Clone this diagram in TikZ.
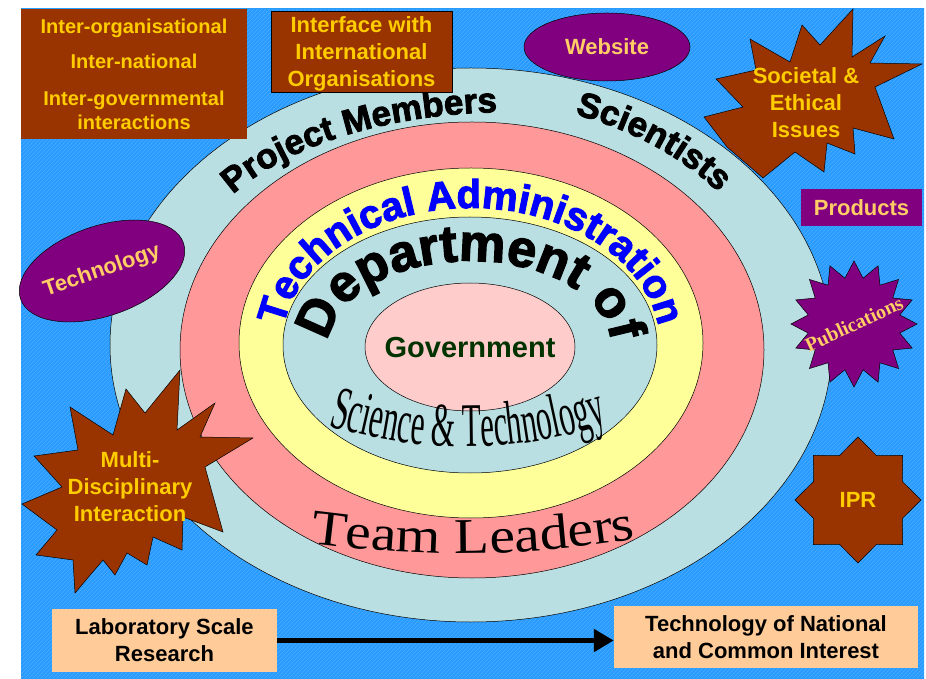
\documentclass[tikz,border=0pt]{standalone}
\usepackage{fontspec}
\setmainfont{Liberation Sans}
\newfontfamily\heavysans[FakeBold=2.5]{Liberation Sans Bold}
\newfontfamily\wideserif[FakeStretch=1.15]{Liberation Serif}
\newfontfamily\tallserif[FakeStretch=0.5]{Liberation Serif}
\newfontfamily\pubserif{Liberation Serif}
\usetikzlibrary{shapes.geometric,arrows.meta,decorations.text,positioning}

\definecolor{ringblue}{RGB}{185,223,227}
\definecolor{ringpink}{RGB}{255,153,153}
\definecolor{ringyellow}{RGB}{255,255,153}
\definecolor{corepink}{RGB}{255,204,204}
\definecolor{rust}{RGB}{153,51,0}
\definecolor{gold}{RGB}{255,204,0}
\definecolor{plum}{RGB}{128,0,128}
\definecolor{apricot}{RGB}{255,204,102}
\definecolor{peach}{RGB}{255,204,153}
\definecolor{govgreen}{RGB}{0,51,0}
\definecolor{skyblue}{RGB}{40,155,255}
\definecolor{aqua}{RGB}{100,255,255}

\begin{document}
\begin{tikzpicture}[x=1pt, y=1pt,
    ring/.style={draw=black, line width=0.5pt},
    burst/.style={draw=black, line width=0.5pt, fill=rust},
    goldtext/.style={text=gold, font=\bfseries\fontsize{22}{27}\selectfont, align=center},
    plumtext/.style={text=apricot, font=\bfseries\fontsize{22}{26}\selectfont},
    plumoval/.style={ellipse, draw=black, line width=0.5pt, fill=plum, inner sep=0pt, plumtext},
    peachbox/.style={fill=peach, inner sep=0pt, align=center, font=\bfseries\fontsize{22}{27}\selectfont},
  ]
  % 1. Background, shaded with faint hatching
  \fill[white] (0,0) rectangle (926,678);
  \shade[top color=skyblue, middle color=aqua, bottom color=skyblue, shading angle=45] (21,0) rectangle (924,669);
  \begin{scope}
    \clip (21,0) rectangle (924,669);
    \foreach \k in {0,4,...,1600}
      \draw[white, opacity=0.18, line width=0.4pt] (21-700+\k,0) -- ++(669,669);
  \end{scope}

  % 2. Nested rings, outermost first
  \draw[ring, fill=ringblue] (471,333) ellipse [x radius=361, y radius=277];
  \draw[ring, fill=ringpink] (472,328) ellipse [x radius=292, y radius=228];
  \draw[ring, fill=ringyellow] (471,335) ellipse [x radius=232, y radius=175];
  \draw[ring, fill=ringblue] (470,333) ellipse [x radius=187, y radius=128];
  \draw[ring, fill=corepink] (470,331) ellipse [x radius=105, y radius=64];
  \node[text=govgreen, font=\bfseries\fontsize{29}{29}\selectfont] (gov) at (470,330) {Government};

  % 3. Curved labels on the rings
  \path[decorate, decoration={text along path, text align=left,
      text={|\heavysans\fontsize{35}{35}\selectfont|Project Members}}]
    ([shift={(150:320 and 165)}]510,401) arc[start angle=150, end angle=60, x radius=320, y radius=165];
  \path[decorate, decoration={text along path, text align=left,
      text={|\heavysans\fontsize{35}{35}\selectfont|Scientists}}]
    ([shift={(71:319 and 247)}]471,330) arc[start angle=71, end angle=10, x radius=319, y radius=247];
  \path[decorate, decoration={text along path, text align=center,
      text={|\heavysans\color{blue}\fontsize{40}{40}\selectfont|Technical Administration}}]
    ([shift={(180:189 and 137)}]471,333) arc[start angle=180, end angle=0, x radius=189, y radius=137];
  \path[decorate, decoration={text along path, text align=center,
      text={|\heavysans\fontsize{52}{52}\selectfont|Department of}}]
    ([shift={(190:141 and 84)}]470,333) arc[start angle=190, end angle=-10, x radius=141, y radius=84];
  \path[decorate, decoration={text along path, text align=center,
      text={|\tallserif\fontsize{62}{62}\selectfont|Science {\&} Technology}}]
    (312,257) .. controls (420,222) and (520,222) .. (624,260);
  \path[decorate, decoration={text along path, text align=center,
      text={|\wideserif\fontsize{50}{50}\selectfont|Team Leaders}}]
    (288,138) .. controls (420,119) and (525,119) .. (658,143);

  % 4. Boxes and ovals round the rings
  \node[fill=rust, goldtext, font=\bfseries\fontsize{20}{24}\selectfont, minimum width=226pt, minimum height=130pt, inner sep=0pt] (inter) at (134,604)
    {Inter-organisational\\[11pt]Inter-national\\[13pt]Inter-governmental\\interactions};
  \node[fill=rust, draw=black, line width=0.5pt, goldtext, minimum width=181pt, minimum height=81pt, inner sep=0pt] (iface) at (361.5,626.5)
    {\\[-6pt]Interface with\\International\\Organisations};
  \node[plumoval, minimum width=166pt, minimum height=68pt] (web) at (607,631) {Website};
  \node[fill=plum, plumtext, minimum width=121pt, minimum height=37pt, inner sep=0pt] (prod) at (861.5,470.5) {Products};
  \node[plumoval, minimum width=156pt, minimum height=90pt, rotate=19] (tech) at (102,407) {Technology};

  % 5. Stars and bursts
  \draw[burst] (853,669) -- (852,621) -- (885,642) -- (870,615) -- (922,614) -- (875,591) -- (894,539) -- (853,550)
    -- (855,524) -- (827,535) -- (824,506) -- (795,526) -- (763,500) -- (727,531) -- (704,561) -- (743,571)
    -- (716,599) -- (756,608) -- (750,639) -- (790,616) -- (802,653) -- (820,633) -- cycle;
  \node[goldtext] (soc) at (806,575) {Societal \&\\Ethical\\Issues};
  \draw[burst] (180,308) -- (177,248) -- (215,275) -- (200,241) -- (253,240) -- (205,211) -- (223,146) -- (183,161)
    -- (182,128) -- (153,141) -- (147,113) -- (127,125) -- (115,103) -- (103,118) -- (75,85) -- (73,118)
    -- (36,123) -- (57,148) -- (22,174) -- (62,191) -- (34,222) -- (78,228) -- (70,271) -- (113,243)
    -- (126,289) -- (145,265) -- cycle;
  \node[goldtext] (multi) at (130,191) {Multi-\\Disciplinary\\Interaction};
  \node[star, star points=16, star point ratio=1.35, minimum size=126pt, inner sep=0pt, draw=black, line width=0.5pt, fill=plum] (pubstar) at (854,354) {};
  \node[rotate=25, text=apricot, font=\pubserif\bfseries\fontsize{20}{20}\selectfont] (pubs) at (pubstar) {Publications};
  \node[star, star points=8, star point ratio=1.31, minimum size=126pt, inner sep=0pt, draw=black, line width=0.5pt, fill=rust, goldtext] (ipr) at (858,178) {IPR};

  % 6. From the laboratory to national interest
  \node[peachbox, minimum width=225pt, minimum height=63pt] (lab) at (164.5,37.5) {Laboratory Scale\\Research};
  \node[peachbox, minimum width=304pt, minimum height=62pt] (natl) at (766,41) {Technology of National\\and Common Interest};
  \draw[line width=5pt, -{Triangle[length=20pt, width=22pt]}] (lab.east) -- (lab.east -| natl.west);
\end{tikzpicture}
\end{document}
